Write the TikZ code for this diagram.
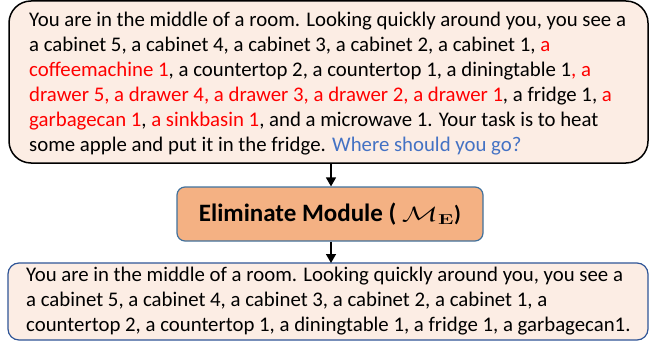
\documentclass[tikz,border=0pt]{standalone}
\usepackage[no-math]{fontspec}
\setmainfont{Carlito}
\usetikzlibrary{arrows.meta}
\definecolor{boxfill}{HTML}{FCEDE4}
\definecolor{modfill}{HTML}{F4B183}
\definecolor{modline}{HTML}{41719C}
\definecolor{botline}{HTML}{2F5597}
\definecolor{hl}{HTML}{FF0000}
\definecolor{qblue}{HTML}{4472C4}
\tikzset{
  txt/.style={anchor=base west, inner sep=0pt, align=left, font=\fontsize{20.8}{25}\selectfont},
  arr/.style={-{Triangle[length=9pt,width=10pt]}, line width=1.4pt},
}
\begin{document}
\begin{tikzpicture}[x=1pt,y=-1pt]
\useasboundingbox (0,0) rectangle (650,342);
% top box
\draw[line width=1.5pt, fill=boxfill, rounded corners=22pt] (9,1) rectangle (648,163);
\coordinate (topbot) at (331,163);
\node[txt] (t) at (29,151) {You are in the middle of a room. Looking quickly around you, you see a\\
a cabinet 5, a cabinet 4, a cabinet 3, a cabinet 2, a cabinet 1, \textcolor{hl}{a}\\
\textcolor{hl}{coffeemachine 1}, a countertop 2, a countertop 1, a diningtable 1\textcolor{hl}{, a}\\
\textcolor{hl}{drawer 5, a drawer 4, a drawer 3, a drawer 2, a drawer 1}, a fridge 1, \textcolor{hl}{a}\\
\textcolor{hl}{garbagecan 1}, \textcolor{hl}{a sinkbasin 1}, and a microwave 1. Your task is to heat\\
some apple and put it in the fridge. \textcolor{qblue}{Where should you go?}};
% module
\node[draw=modline, line width=1.2pt, fill=modfill, rounded corners=8pt,
  minimum width=306pt, minimum height=54pt, inner sep=0pt,
  font=\fontsize{25}{28}\selectfont\bfseries] (m) at (330,214)
  {Eliminate Module ( \fontsize{22}{26}\selectfont\scalebox{1.45}[1]{$\mathcal{M}_{\mathbf{E}}$})};
% bottom box
\draw[draw=botline, line width=1.2pt, fill=boxfill, rounded corners=11pt] (8,263) rectangle (648,340);
\coordinate (bottop) at (331,263);
\node[txt] (b) at (26,331) {You are in the middle of a room. Looking quickly around you, you see a\\
a cabinet 5, a cabinet 4, a cabinet 3, a cabinet 2, a cabinet 1, a\\
countertop 2, a countertop 1, a diningtable 1, a fridge 1, a garbagecan1.};
\draw[arr] (topbot) -- (m.north -| topbot);
\draw[arr] (m.south -| bottop) -- (bottop);
\end{tikzpicture}
\end{document}
